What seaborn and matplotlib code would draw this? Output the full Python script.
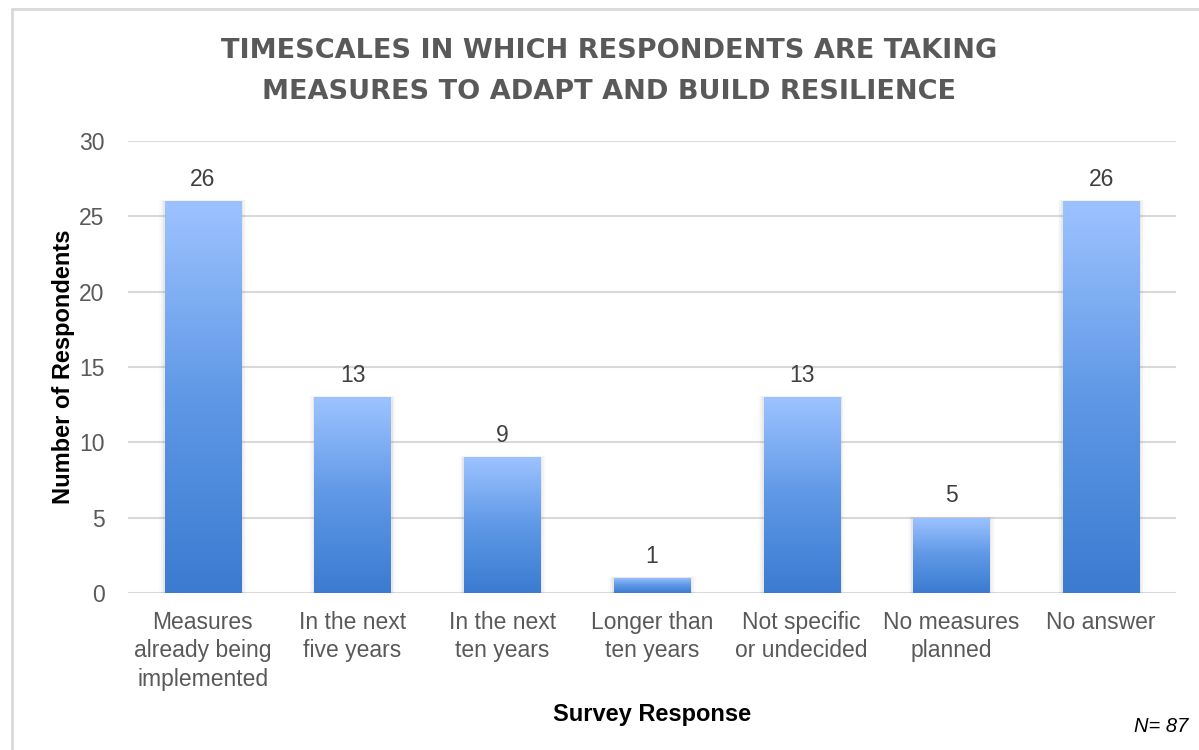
import numpy as np
import pandas as pd
import matplotlib
matplotlib.use("Agg")
import matplotlib.pyplot as plt
import seaborn as sns
from matplotlib.colors import LinearSegmentedColormap
from matplotlib.lines import Line2D

categories = ["Measures\nalready being\nimplemented", "In the next\nfive years", "In the next\nten years",
              "Longer than\nten years", "Not specific\nor undecided", "No measures\nplanned", "No answer"]
values = [26, 13, 9, 1, 13, 5, 26]
yticks = [0, 5, 10, 15, 20, 25, 30]
title = "TIMESCALES IN WHICH RESPONDENTS ARE TAKING\nMEASURES TO ADAPT AND BUILD RESILIENCE"

sns.set_theme(style="white")
plt.rcParams['font.family'] = ['Liberation Sans', 'DejaVu Sans']

df = pd.DataFrame({"cat": categories, "val": values})

fig = plt.figure(figsize=(11.99, 7.5), dpi=100)
ax = fig.add_axes([128/1199, 1-593/750, (1176-128)/1199, (593-141)/750])

sns.barplot(data=df, x="cat", y="val", color="#5B9BD5", width=0.51, ax=ax, zorder=3)

ax.set_xlim(-0.5, len(categories) - 0.5)
ax.set_ylim(0, 30)
ax.set_yticks(yticks)
ax.grid(False)
for t in yticks:
    ax.axhline(t, color="#D9D9D9", lw=1.5, zorder=1)
for s in ax.spines.values():
    s.set_visible(False)

cmap = LinearSegmentedColormap.from_list("g", ["#3B7BD0", "#5F98E6", "#9DC3FF"])
grad = np.linspace(0, 1, 256).reshape(-1, 1)
for p, v in zip(ax.patches, values):
    x0, y0 = p.get_x(), p.get_y()
    w, h = p.get_width(), p.get_height()
    # soft shadow
    for k, a in enumerate([0.10, 0.06, 0.03]):
        d = (k + 1) * 0.012
        sh = plt.Rectangle((x0 - d, y0), w + 2 * d, h + d * 3, facecolor="#808080", alpha=a,
                           edgecolor="none", zorder=2)
        ax.add_patch(sh)
    im = ax.imshow(grad, cmap=cmap, aspect="auto", extent=(x0, x0 + w, y0, y0 + h),
                   origin="lower", zorder=3.5, interpolation="bicubic")
    im.set_clip_path(p)
    p.set_facecolor("none")
    p.set_edgecolor("none")
    ax.annotate(str(v), (x0 + w / 2, y0 + h), xytext=(0, 7.5), textcoords="offset points",
                ha="center", va="bottom", fontsize=16.5, color="#404040")

ax.set_xlim(-0.5, len(categories) - 0.5)
ax.set_ylim(0, 30)

ax.tick_params(axis="y", length=0, pad=17, labelsize=16.5, labelcolor="#595959")
ax.tick_params(axis="x", length=0, pad=13, labelsize=16.5, labelcolor="#595959")
for lab in ax.get_xticklabels():
    lab.set_linespacing(1.3)

ax.set_xlabel("Survey Response", fontsize=17, fontweight="bold", color="black", labelpad=8.5)
ax.set_ylabel("Number of Respondents", fontsize=17, fontweight="bold", color="black", labelpad=3)

fig.text(609/1199, 1-71.5/750, title, ha="center", va="center", fontsize=19.5,
         fontweight="bold", color="#595959", family=["DejaVu Sans"],
         linespacing=1.75)

fig.text(1188/1199, 1-727/750, "N= 87", ha="right", va="center", fontsize=14.5,
         style="italic", color="black")

# frame border
fig.add_artist(Line2D([12/1199, 12/1199], [0, 1-9/750], transform=fig.transFigure,
                      color="#D9D9D9", lw=2))
fig.add_artist(Line2D([12/1199, 1], [1-9/750, 1-9/750], transform=fig.transFigure,
                      color="#D9D9D9", lw=2))

fig.savefig("out.png", dpi=100)
